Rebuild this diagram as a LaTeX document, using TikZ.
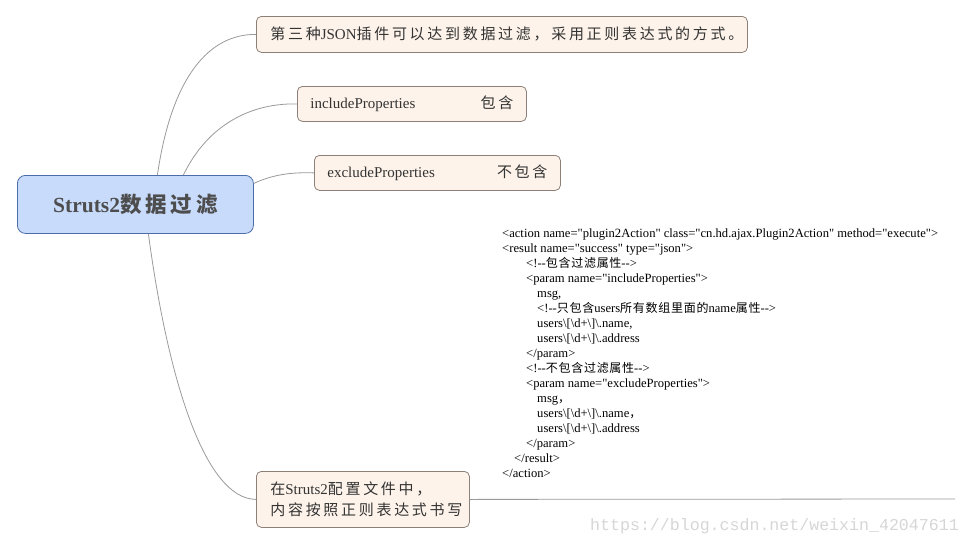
\documentclass[tikz,border=0pt]{standalone}
\usepackage{fontspec}
\setmainfont{Liberation Serif}
\newfontfamily\codefont{Liberation Serif}[Ligatures=TeXOff]
\newfontfamily\cjk[LetterSpace=18]{Noto Sans CJK SC}
\newfontfamily\cjkc[LetterSpace=6]{Noto Sans CJK SC}
\newfontfamily\wmfont{Liberation Mono}
\usetikzlibrary{calc}
\definecolor{nodefill}{HTML}{FDF3EA}
\definecolor{nodeborder}{HTML}{8C8078}
\definecolor{mainfill}{HTML}{C8DBFB}
\definecolor{mainborder}{HTML}{4C6DA8}
\definecolor{conncol}{HTML}{9A9A9A}
\definecolor{txt}{HTML}{333333}
\definecolor{maintxt}{HTML}{4D4D4D}
\definecolor{wmcol}{HTML}{D6D6D6}
\newcommand{\dd}{-\kern0pt-}
\newcommand{\bs}{\textbackslash}
\newcommand{\cc}[1]{{\cjkc\fontsize{12}{15}\selectfont #1}}
\tikzset{
  topic/.style={draw=nodeborder, fill=nodefill, rounded corners=5pt, line width=0.8pt,
    anchor=north west, align=left, inner ysep=0pt, text=txt,
    font=\fontsize{15}{21}\selectfont},
  central/.style={draw=mainborder, fill=mainfill, rounded corners=8pt, line width=0.8pt,
    anchor=north west, align=center, inner sep=0pt, text=maintxt,
    minimum width=236pt, minimum height=58pt, font=\fontsize{21.5}{24}\selectfont\bfseries},
  conn/.style={draw=conncol, line width=0.8pt},
  code/.style={anchor=base west, inner sep=0pt, text=black, font=\codefont\fontsize{12.6}{15}\selectfont},
  wm/.style={anchor=base west, inner sep=0pt, text=wmcol, font=\wmfont\fontsize{16.6}{18}\selectfont}
}
\begin{document}
\begin{tikzpicture}[x=1pt,y=-1pt]
\useasboundingbox (0,0) rectangle (970,544);
% central
\node[central] (c) at (17,175) {Struts2{\cjk 数据过滤}};
% topics
\node[topic, inner xsep=14pt, text width=463pt, minimum height=36pt] (n1) at (256,16)
  {{\cjk 第三种}JSON{\cjk 插件可以达到数据过滤，采用正则表达式的方式。}};
\node[topic, inner xsep=13pt, text width=203pt, minimum height=35pt] (n2) at (297,86)
  {includeProperties\hfill{\cjk 包含}};
\node[topic, inner xsep=13pt, text width=220pt, minimum height=35pt] (n3) at (314,155)
  {excludeProperties\hfill{\cjk 不包含}};
\node[topic, inner xsep=14pt, text width=185pt, minimum height=56pt] (n4) at (256,471)
  {{\cjk 在}Struts2{\cjk 配置文件中，}\\{\cjk 内容按照正则表达式书写}};
% connector start points
\coordinate (s1) at ([xshift=22pt]c.north);
\coordinate (s2) at ([xshift=48pt]c.north);
\coordinate (s3) at ([yshift=21pt]c.east);
\coordinate (s4) at ([xshift=13pt]c.south);
\coordinate (lineend) at (955,499);
\draw[conn] (s1) .. controls (172,75) and (210,34) .. (n1.west);
\draw[conn] (s2) .. controls (205,130) and (245,103) .. (n2.west);
\draw[conn] (s3) .. controls (272,175) and (290,172) .. (n3.west);
\draw[conn] (s4) .. controls (168,380) and (205,499) .. (n4.west);
\draw[conn] (n4.east) -- (lineend);
% code text
\node[code] (l1) at (502,237) {<action name="plugin2Action" class="cn.hd.ajax.Plugin2Action" method="execute">};
\node[code] (l2) at (502,252) {<result name="success" type="json">};
\node[code] (l3) at (526,267) {<!\dd\cc{包含过滤属性}\dd>};
\node[code] (l4) at (526,282) {<param name="includeProperties">};
\node[code] (l5) at (537,297) {msg,};
\node[code] (l6) at (537,312) {<!\dd\cc{只包含}users\cc{所有数组里面的}name\cc{属性}\dd>};
\node[code] (l7) at (537,327) {users\bs[\bs d+\bs]\bs.name,};
\node[code] (l8) at (537,342) {users\bs[\bs d+\bs]\bs.address};
\node[code] (l9) at (526,357) {</param>};
\node[code] (l10) at (526,372) {<!\dd\cc{不包含过滤属性}\dd>};
\node[code] (l11) at (526,387) {<param name="excludeProperties">};
\node[code] (l12) at (537,402) {msg\cc{，}};
\node[code] (l13) at (537,417) {users\bs[\bs d+\bs]\bs.name\cc{，}};
\node[code] (l14) at (537,432) {users\bs[\bs d+\bs]\bs.address};
\node[code] (l15) at (526,447) {</param>};
\node[code] (l16) at (514,462) {</result>};
\node[code] (l17) at (502,477) {</action>};
% watermark
\node[wm] (wmk) at (590,530) {https://blog.csdn.net/weixin\_42047611};
\end{tikzpicture}
\end{document}
